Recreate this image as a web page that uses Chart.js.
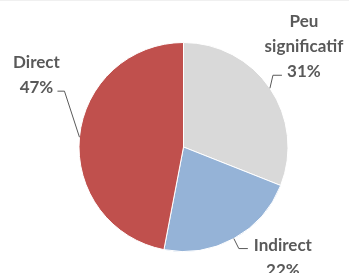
<!DOCTYPE html>
<html>
<head>
<meta charset="utf-8">
<script src="https://cdn.jsdelivr.net/npm/chart.js@4"></script>
<style>
  html, body { margin: 0; padding: 0; background: #fff; }
  body { width: 349px; height: 273px; border-top: 1px solid #f0f0f0; box-sizing: border-box; overflow: hidden; }
  canvas { display: block; }
</style>
</head>
<body>
<canvas id="chart" width="349" height="272"></canvas>
<script>
// data
const labels = ["Peu significatif", "Indirect", "Direct"];
const labelLines = [["Peu", "significatif"], ["Indirect"], ["Direct"]];
const values = [31, 22, 47];
const colors = ["#D9D9D9", "#95B3D7", "#C0504D"];

// leader line / label layout per slice (offsets from the arc midpoint)
// anchor "last": the percentage line sits at the line end, name above
// anchor "first": the name sits at the line end, percentage below
const layout = [
    { elbow: [3, -13], end: [12, -13], text: [22, -4], anchor: "last" },
    { elbow: [5, 10], end: [14, 10], text: [35, -3], anchor: "first" },
    { elbow: [-15, -46], end: [-22, -46], text: [-21, -4], anchor: "last" },
];

const total = values.reduce((a, b) => a + b, 0);

const leaderLabels = {
    id: "leaderLabels",
    afterDatasetsDraw(chart) {
        const ctx = chart.ctx;
        const arcs = chart.getDatasetMeta(0).data;
        ctx.save();
        arcs.forEach((arc, i) => {
            const mid = (arc.startAngle + arc.endAngle) / 2;
            const x0 = arc.x + Math.cos(mid) * arc.outerRadius;
            const y0 = arc.y + Math.sin(mid) * arc.outerRadius;
            const l = layout[i];
            ctx.strokeStyle = "#595959";
            ctx.lineWidth = 1;
            ctx.beginPath();
            ctx.moveTo(x0, y0);
            ctx.lineTo(x0 + l.elbow[0], y0 + l.elbow[1]);
            ctx.lineTo(x0 + l.end[0], y0 + l.end[1]);
            ctx.stroke();

            const pct = Math.round(values[i] / total * 100) + "%";
            const lines = labelLines[i].concat([pct]);
            const tx = x0 + l.end[0] + l.text[0];
            const ty = y0 + l.end[1] + l.text[1];
            const firstY = l.anchor === "last" ? ty - (lines.length - 1) * 25 : ty;
            ctx.fillStyle = "#595959";
            ctx.font = "bold 17px Lato, 'Open Sans', sans-serif";
            ctx.textAlign = "center";
            ctx.textBaseline = "middle";
            lines.forEach((t, k) => {
                ctx.fillText(t, tx, firstY + k * 25);
            });
        });
        ctx.restore();
    }
};

new Chart(document.getElementById("chart"), {
    type: "pie",
    data: {
        labels: labels,
        datasets: [
            {
                data: values,
                backgroundColor: colors,
                borderColor: "#ffffff",
                borderWidth: 1,
            },
        ],
    },
    options: {
        responsive: false,
        animation: false,
        layout: {
            padding: { left: 60, right: 42, top: 41, bottom: 21 }
        },
        plugins: {
            legend: { display: false },
            tooltip: { enabled: false },
        },
    },
    plugins: [leaderLabels],
});
</script>
</body>
</html>
